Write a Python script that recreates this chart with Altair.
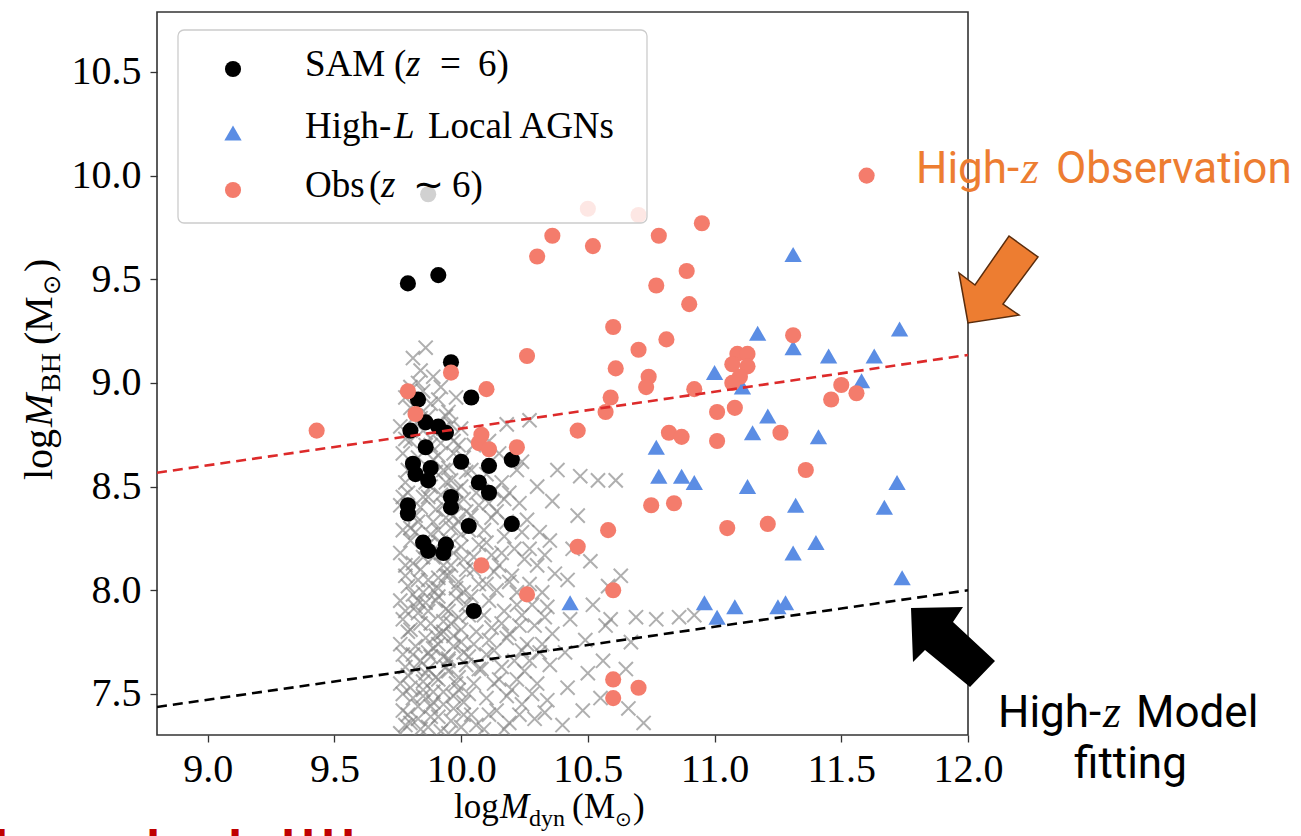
import altair as alt
import pandas as pd

# ---------------- data ----------------
# SAM (z = 6), black circles
sam_x = [9.79, 9.91, 9.96, 9.83, 10.04, 9.86, 9.91, 9.94, 9.80, 9.86,
         9.81, 9.88, 9.87, 9.82, 10.00, 10.11, 10.20, 10.07, 10.11, 9.79,
         9.79, 9.96, 9.96, 10.03, 10.20, 9.85, 9.87, 9.94, 9.93, 10.05, 9.87]
sam_y = [9.48, 9.52, 9.10, 8.92, 8.93, 8.81, 8.79, 8.76, 8.77, 8.69,
         8.61, 8.59, 8.53, 8.56, 8.62, 8.60, 8.63, 8.52, 8.47, 8.41,
         8.37, 8.45, 8.40, 8.31, 8.32, 8.23, 8.19, 8.22, 8.18, 7.90, 9.91]

# High-L local AGNs, blue triangles
loc_x = [11.31, 11.17, 11.31, 11.73, 11.45, 11.63, 11.00, 11.58, 11.11, 11.21,
         11.15, 11.41, 10.77, 10.78, 10.87, 10.92, 11.13, 11.72, 11.32, 11.67,
         11.40, 11.31, 11.74, 10.43, 10.96, 11.01, 11.08, 11.25, 11.28]
loc_y = [9.62, 9.24, 9.17, 9.26, 9.13, 9.13, 9.05, 9.01, 8.98, 8.84,
         8.76, 8.74, 8.69, 8.55, 8.55, 8.52, 8.50, 8.52, 8.41, 8.40,
         8.23, 8.18, 8.06, 7.94, 7.94, 7.87, 7.92, 7.92, 7.94]

# Obs (z ~ 6), salmon circles
obs_x = [9.43, 9.79, 9.82, 9.96, 10.10, 10.07, 10.08, 10.11, 10.22, 10.08,
         10.26, 10.30, 10.36, 10.52, 10.26, 10.46, 10.46, 10.59, 10.57, 10.61,
         10.60, 10.58, 10.60, 10.60, 10.60, 10.70, 10.70, 10.74, 10.73, 10.77,
         10.78, 10.81, 10.89, 10.90, 10.95, 10.92, 10.82, 10.87, 10.75, 10.84,
         11.01, 11.08, 11.01, 11.05, 11.21, 11.26, 11.36, 11.31, 11.09, 11.13,
         11.07, 11.13, 11.10, 11.07, 11.50, 11.46, 11.56, 11.60, 10.50, 10.70]
obs_y = [8.77, 8.96, 8.85, 9.05, 8.97, 8.71, 8.75, 8.68, 8.69, 8.12,
         7.98, 9.61, 9.71, 9.66, 9.13, 8.77, 8.21, 8.93, 8.86, 9.07,
         9.27, 8.29, 8.00, 7.57, 7.48, 7.53, 9.16, 9.03, 8.98, 9.47,
         9.71, 9.21, 9.54, 9.38, 9.77, 8.97, 8.76, 8.74, 8.41, 8.42,
         8.86, 8.88, 8.72, 8.30, 8.32, 8.76, 8.58, 9.23, 9.14, 9.14,
         9.09, 9.08, 9.03, 9.00, 8.99, 8.92, 8.95, 10.00, 9.84, 9.81]

# SAM full sample (grey crosses)
cloud_x = [
    9.76, 9.77, 9.76, 9.78, 9.76, 9.77, 9.76, 9.78, 9.76, 9.77, 9.76, 9.78, 9.77, 9.76, 9.78,
    9.80, 9.81, 9.79, 9.81, 9.80, 9.82, 9.79, 9.81, 9.80, 9.82, 9.79, 9.81, 9.80, 9.82, 9.80, 9.81,
    9.84, 9.83, 9.85, 9.84, 9.86, 9.83, 9.85, 9.84, 9.86, 9.83, 9.85, 9.84, 9.86, 9.84, 9.85, 9.86, 9.84,
    9.88, 9.89, 9.87, 9.89, 9.88, 9.90, 9.87, 9.89, 9.88, 9.90, 9.88, 9.89, 9.90, 9.88, 9.89,
    9.92, 9.93, 9.91, 9.93, 9.92, 9.94, 9.91, 9.93, 9.92, 9.94, 9.92, 9.93, 9.92, 9.94, 9.92,
    9.96, 9.97, 9.95, 9.97, 9.96, 9.98, 9.95, 9.97, 9.96, 9.98, 9.96, 9.97, 9.96, 9.98,
    10.00, 10.01, 9.99, 10.01, 10.00, 10.02, 9.99, 10.01, 10.00, 10.02, 10.00, 10.01, 10.00,
    10.04, 10.05, 10.03, 10.06, 10.04, 10.05, 10.07, 10.04, 10.06, 10.05,
    10.09, 10.10, 10.08, 10.11, 10.09, 10.10, 10.12, 10.09, 10.11, 10.10,
    10.14, 10.15, 10.13, 10.16, 10.14, 10.15, 10.17, 10.14, 10.16, 10.15, 10.18,
    10.19, 10.20, 10.21, 10.19, 10.22, 10.20, 10.21, 10.19, 10.22,
    10.24, 10.25, 10.26, 10.24, 10.27, 10.25, 10.26, 10.24, 10.27,
    10.29, 10.30, 10.31, 10.29, 10.32, 10.30, 10.31, 10.30,
    10.34, 10.35, 10.36, 10.34, 10.37, 10.35, 10.36, 10.38,
    10.40, 10.42, 10.41, 10.43, 10.42, 10.44, 10.46, 10.47,
    10.48, 10.50, 10.49, 10.52, 10.51, 10.54,
    10.55, 10.56, 10.57, 10.59, 10.58, 10.61,
    10.63, 10.66, 10.65, 10.67, 10.69, 10.72, 10.77, 10.86, 10.92,
    9.77, 9.79, 9.82, 9.85, 9.87, 9.90, 9.93, 9.95, 9.78, 9.83, 9.88, 9.91,
]
cloud_y = [
    7.31, 7.42, 7.55, 7.63, 7.74, 7.86, 7.95, 8.07, 8.18, 8.29, 8.41, 8.52, 8.66, 8.79, 8.93,
    7.36, 7.48, 7.59, 7.69, 7.81, 7.92, 8.02, 8.13, 8.24, 8.36, 8.47, 8.60, 8.72, 8.84, 8.98, 9.12,
    7.33, 7.44, 7.56, 7.66, 7.77, 7.89, 7.99, 8.10, 8.21, 8.33, 8.45, 8.57, 8.70, 8.83, 8.96, 9.17, 9.06,
    7.39, 7.51, 7.62, 7.72, 7.84, 7.95, 8.05, 8.16, 8.27, 8.39, 8.50, 8.63, 8.76, 8.90, 9.03,
    7.32, 7.45, 7.57, 7.68, 7.79, 7.91, 8.01, 8.12, 8.23, 8.35, 8.46, 8.58, 8.71, 8.84, 8.98,
    7.37, 7.49, 7.61, 7.73, 7.84, 7.96, 8.07, 8.18, 8.30, 8.42, 8.53, 8.66, 8.80, 8.93,
    7.34, 7.46, 7.58, 7.70, 7.81, 7.93, 8.04, 8.15, 8.27, 8.38, 8.50, 8.64, 8.78,
    7.40, 7.55, 7.68, 7.80, 7.97, 8.10, 8.22, 8.36, 8.47, 8.70,
    7.33, 7.48, 7.62, 7.76, 7.88, 8.03, 8.17, 8.29, 8.42, 8.56,
    7.42, 7.57, 7.71, 7.84, 8.00, 8.12, 8.26, 8.38, 8.52, 8.66, 8.80,
    7.36, 7.52, 7.66, 7.79, 7.93, 8.07, 8.20, 8.47, 8.58,
    7.45, 7.61, 7.74, 7.88, 8.03, 8.15, 8.34, 8.62, 8.82,
    7.38, 7.55, 7.70, 7.83, 7.99, 8.12, 8.28, 8.50,
    7.47, 7.64, 7.79, 7.92, 8.08, 8.24, 8.43, 8.58,
    7.35, 7.53, 7.70, 7.86, 8.05, 8.20, 8.36, 8.55,
    7.42, 7.60, 7.76, 7.93, 8.14, 8.53,
    7.48, 7.66, 7.83, 7.86, 8.02, 8.53,
    8.07, 7.43, 7.62, 7.75, 7.87, 7.36, 7.86, 7.87, 7.88,
    7.50, 7.40, 7.62, 7.49, 7.70, 7.58, 7.80, 7.66, 7.90, 7.95, 7.44, 8.06,
]
# more crosses in the dense core and the middle of the cloud
cloud2_x = [
    9.78, 9.80, 9.77, 9.79, 9.81, 9.78, 9.80, 9.77, 9.79, 9.78, 9.80,
    9.83, 9.85, 9.82, 9.84, 9.86, 9.83, 9.85, 9.82, 9.84, 9.86, 9.83, 9.85, 9.83,
    9.87, 9.89, 9.86, 9.88, 9.90, 9.87, 9.89, 9.87, 9.89, 9.87, 9.90, 9.88, 9.87,
    9.91, 9.93, 9.94, 9.91, 9.93, 9.91, 9.94, 9.92, 9.91, 9.93, 9.94, 9.91, 9.93, 9.91,
    9.95, 9.97, 9.98, 9.95, 9.97, 9.95, 9.98, 9.96, 9.95, 9.97, 9.98, 9.95, 9.97, 9.95,
    10.01, 9.99, 10.02, 10.00, 9.99, 10.01, 10.02, 10.00, 9.99, 10.01, 10.02, 9.99,
    10.06, 10.03, 10.07, 10.05, 10.03, 10.07, 10.05, 10.03, 10.07, 10.04,
    10.11, 10.13, 10.10, 10.12, 10.11, 10.13, 10.10, 10.12, 10.13, 10.11,
    10.17, 10.18, 10.16, 10.18, 10.17, 10.19, 10.16, 10.18, 10.17,
    10.23, 10.22, 10.24, 10.23, 10.22, 10.24, 10.23,
    10.28, 10.27, 10.28, 10.27, 10.33, 10.32, 10.33, 10.33,
]
cloud2_y = [
    7.35, 7.53, 7.69, 7.80, 7.98, 8.12, 8.30, 8.45, 8.58, 8.73, 8.88,
    7.38, 7.52, 7.73, 7.84, 7.94, 8.05, 8.16, 8.28, 8.40, 8.52, 8.64, 8.77, 9.00,
    7.34, 7.46, 7.60, 7.68, 7.78, 7.90, 8.00, 8.22, 8.33, 8.45, 8.57, 8.70, 8.84,
    7.39, 7.51, 7.63, 7.74, 7.85, 7.97, 8.07, 8.18, 8.29, 8.41, 8.52, 8.65, 8.78, 8.92,
    7.31, 7.43, 7.55, 7.67, 7.78, 7.90, 8.01, 8.12, 8.24, 8.36, 8.48, 8.59, 8.72, 8.86,
    7.40, 7.52, 7.64, 7.75, 7.87, 7.99, 8.10, 8.21, 8.33, 8.44, 8.57, 8.70,
    7.35, 7.50, 7.62, 7.74, 7.88, 8.03, 8.16, 8.29, 8.41, 8.58,
    7.40, 7.55, 7.69, 7.82, 7.95, 8.09, 8.23, 8.35, 8.48, 8.72,
    7.33, 7.49, 7.63, 7.77, 7.90, 8.04, 8.18, 8.33, 8.44,
    7.40, 7.57, 7.71, 7.83, 7.99, 8.28, 8.42,
    7.50, 7.66, 7.93, 8.20, 7.41, 7.74, 7.87, 8.17,
]

# fitted relations (end points across the axis range)
fit_x = [8.8, 12.0]
fit_obs_y = [8.567, 9.135]     # red dashed: high-z observation
fit_model_y = [7.437, 8.000]   # black dashed: high-z model

x_ticks = [9.0, 9.5, 10.0, 10.5, 11.0, 11.5, 12.0]
y_ticks = [7.5, 8.0, 8.5, 9.0, 9.5, 10.0, 10.5]

# ---------------- layout ----------------
OX, OY = 157, 12            # plot-area origin in the page
W, H = 811, 723             # plot-area size
SERIF = "Liberation Serif"
SANS = "Roboto"
ORANGE = "#ED7D31"
SALMON = "#F47C6C"
BLUE = "#5B8DE4"

xscale = alt.Scale(domain=[8.8, 12.0], nice=False, zero=False)
yscale = alt.Scale(domain=[7.302, 10.789], nice=False, zero=False)
xaxis = alt.Axis(values=x_ticks, format=".1f", title=None, grid=False, domain=False,
                 tickSize=7, tickWidth=1.3, tickColor="#333333", labelFont=SERIF,
                 labelFontSize=40, labelColor="black", labelPadding=7, labelFlush=False)
yaxis = alt.Axis(values=y_ticks, format=".1f", title=None, grid=False, domain=False,
                 tickSize=7, tickWidth=1.3, tickColor="#333333", labelFont=SERIF,
                 labelFontSize=40, labelColor="black", labelPadding=9)


def enc(xf="x", yf="y"):
    return dict(x=alt.X(f"{xf}:Q", scale=xscale, axis=xaxis),
                y=alt.Y(f"{yf}:Q", scale=yscale, axis=yaxis))


cloud_df = pd.DataFrame({"x": cloud_x + cloud2_x, "y": cloud_y + cloud2_y})
sam_df = pd.DataFrame({"x": sam_x, "y": sam_y})
loc_df = pd.DataFrame({"x": loc_x, "y": loc_y})
obs_df = pd.DataFrame({"x": obs_x, "y": obs_y})
fit_df = pd.DataFrame({"x": fit_x, "obs": fit_obs_y, "model": fit_model_y})
ONE = pd.DataFrame({"d": [0]})

XSHAPE = "M-1,-1L1,1M-1,1L1,-1"

cloud = alt.Chart(cloud_df).mark_point(
    shape=XSHAPE, size=200, filled=False, color="#858585", strokeWidth=2.0,
    opacity=0.65, clip=True).encode(**enc())
sam = alt.Chart(sam_df).mark_point(
    shape="circle", size=260, filled=True, color="black", opacity=1, clip=True).encode(**enc())
loc = alt.Chart(loc_df).mark_point(
    shape="triangle-up", size=300, filled=True, color=BLUE, opacity=1, clip=True).encode(**enc())
obs = alt.Chart(obs_df).mark_point(
    shape="circle", size=260, filled=True, color=SALMON, opacity=1, clip=True).encode(**enc())
fit_obs = alt.Chart(fit_df).mark_line(
    color="#DD2A2A", strokeWidth=2.6, strokeDash=[10, 6], clip=True).encode(**enc("x", "obs"))
fit_model = alt.Chart(fit_df).mark_line(
    color="black", strokeWidth=2.6, strokeDash=[10, 6], clip=True).encode(**enc("x", "model"))


def txt(text, px, py, size, color="black", font=SERIF, style="normal",
        weight="normal", align="left", angle=0):
    return alt.Chart(ONE).mark_text(
        text=text, fontSize=size, font=font, fontStyle=style, fontWeight=weight,
        color=color, align=align, baseline="alphabetic", angle=angle
    ).encode(x=alt.value(px - OX), y=alt.value(py - OY))


def sym(px, py, shape, size, fill, stroke=None, sw=0):
    kw = dict(shape=shape, size=size, filled=True, fill=fill, opacity=1, fillOpacity=1)
    if stroke:
        kw.update(stroke=stroke, strokeWidth=sw, strokeOpacity=1)
    return alt.Chart(ONE).mark_point(**kw).encode(x=alt.value(px - OX), y=alt.value(py - OY))


# legend
legend_box = alt.Chart(ONE).mark_rect(
    fill="white", fillOpacity=0.82, stroke="#cccccc", strokeWidth=1.3, cornerRadius=6
).encode(x=alt.value(178 - OX), x2=alt.value(647 - OX),
         y=alt.value(30 - OY), y2=alt.value(223 - OY))
legend_items = [
    sym(233, 69, "circle", 260, "black"),
    sym(233, 133, "triangle-up", 300, BLUE),
    sym(233, 190, "circle", 260, SALMON),
    txt("SAM", 305, 76, 37),
    txt("(", 394, 76, 37),
    txt("z", 406, 76, 37, style="italic"),
    txt("=", 440, 76, 37),
    txt("6)", 478, 76, 37),
    txt("High-", 305, 138, 37),
    txt("L", 394, 138, 37, style="italic"),
    txt("Local AGNs", 428, 138, 37),
    txt("Obs", 305, 197, 37),
    txt("(", 369, 197, 37),
    txt("z", 381, 197, 37, style="italic"),
    txt("∼", 413, 197, 37),
    txt("6)", 452, 197, 37),
]

# axis titles built from pieces (subscripts)
x_title = [
    txt("log", 454, 818, 35),
    txt("M", 500, 818, 35, style="italic"),
    txt("dyn", 529, 826, 24),
    txt("(", 572, 818, 35),
    txt("M", 584, 818, 35),
    txt("⊙", 615, 826, 20, font="DejaVu Sans"),
    txt(")", 633, 818, 35),
]
y_title = [
    txt("log", 52, 480, 40, angle=270),
    txt("M", 52, 427, 40, style="italic", angle=270),
    txt("BH", 60, 392, 28, angle=270),
    txt("(", 52, 345, 40, angle=270),
    txt("M", 52, 332, 40, angle=270),
    txt("⊙", 60, 295, 24, font="DejaVu Sans", angle=270),
    txt(")", 52, 272, 40, angle=270),
]

# annotations outside the plot
ORANGE_ARROW = "M0,0L-9,-50L7,-38L41,-87L70,-66L35,-19L51,-8Z"
BLACK_ARROW = "M0,0L52,-1L42,14L84,53L59,79L14,42L2,54Z"
RED = "#C00000"
notes = [
    sym(968, 323, ORANGE_ARROW, 4, ORANGE, stroke="#5a2c0c", sw=1.5),
    sym(911, 608, BLACK_ARROW, 4, "black"),
    txt("High-", 916, 183, 44, color=ORANGE, font=SANS),
    txt("z", 1021, 183, 46, color=ORANGE, style="italic"),
    txt("Observation", 1056, 183, 44, color=ORANGE, font=SANS),
    txt("High-", 998, 727, 44, font=SANS),
    txt("z", 1103, 727, 46, style="italic"),
    txt("Model", 1136, 727, 44, font=SANS),
    txt("fitting", 1074, 778, 44, font=SANS),
    txt("l", 1, 860, 40, color=RED, font="DejaVu Sans", weight="bold", align="center"),
    txt("l", 153, 860, 40, color=RED, font="DejaVu Sans", weight="bold", align="center"),
    txt("l", 235, 860, 40, color=RED, font="DejaVu Sans", weight="bold", align="center"),
    txt("!", 288, 859, 40, color=RED, font="DejaVu Sans", weight="bold", align="center"),
    txt("!", 308, 859, 40, color=RED, font="DejaVu Sans", weight="bold", align="center"),
    txt("!", 328, 859, 40, color=RED, font="DejaVu Sans", weight="bold", align="center"),
    txt("!", 348, 859, 40, color=RED, font="DejaVu Sans", weight="bold", align="center"),
]

chart = alt.layer(
    cloud, sam, loc, obs, fit_obs, fit_model, legend_box, *legend_items,
    *x_title, *y_title, *notes
).properties(
    width=W, height=H,
    autosize=alt.AutoSizeParams(type="none"),
    padding={"left": OX, "top": OY, "right": 1301 - OX - W, "bottom": 836 - OY - H},
    background="white",
).configure_view(stroke="#333333", strokeWidth=1.6)

chart.save("out.html", embed_options={"renderer": "svg", "actions": False})
